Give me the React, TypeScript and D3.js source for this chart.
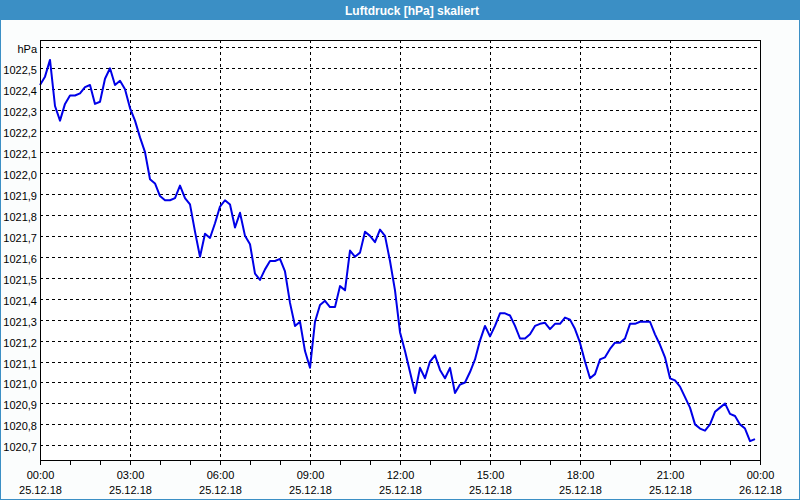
import React from "react";
import * as d3 from "d3";

const title = "Luftdruck [hPa] skaliert";
const unitLabel = "hPa";

// Pressure readings every 10 minutes from 25.12.18 00:00
const pressure: number[] = [
  1022.42, 1022.46, 1022.54, 1022.32, 1022.25, 1022.33, 1022.37, 1022.37, 1022.38, 1022.41,
  1022.42, 1022.33, 1022.34, 1022.45, 1022.5, 1022.42, 1022.44, 1022.4, 1022.31, 1022.25,
  1022.17, 1022.1, 1021.97, 1021.95, 1021.89, 1021.87, 1021.87, 1021.88, 1021.94, 1021.88,
  1021.85, 1021.72, 1021.6, 1021.71, 1021.69, 1021.76, 1021.84, 1021.87, 1021.85, 1021.74,
  1021.81, 1021.7, 1021.66, 1021.52, 1021.49, 1021.54, 1021.58, 1021.58, 1021.59, 1021.53,
  1021.38, 1021.27, 1021.29, 1021.15, 1021.07, 1021.29, 1021.37, 1021.39, 1021.36, 1021.36,
  1021.46, 1021.44, 1021.63, 1021.6, 1021.62, 1021.72, 1021.7, 1021.67, 1021.73, 1021.7,
  1021.58, 1021.44, 1021.24, 1021.15, 1021.05, 1020.95, 1021.07, 1021.02, 1021.1, 1021.13,
  1021.06, 1021.02, 1021.07, 1020.95, 1020.99, 1021.0, 1021.05, 1021.11, 1021.2, 1021.27,
  1021.22, 1021.27, 1021.33, 1021.33, 1021.32, 1021.27, 1021.21, 1021.21, 1021.23, 1021.27,
  1021.28, 1021.285, 1021.255, 1021.28, 1021.28, 1021.31, 1021.3, 1021.255, 1021.19, 1021.1,
  1021.02, 1021.04, 1021.11, 1021.12, 1021.16, 1021.19, 1021.19, 1021.21, 1021.28, 1021.28,
  1021.29, 1021.29, 1021.29, 1021.23, 1021.18, 1021.12, 1021.02, 1021.01, 1020.98, 1020.93,
  1020.88, 1020.8, 1020.78, 1020.77, 1020.8, 1020.86, 1020.88, 1020.9, 1020.85, 1020.84,
  1020.8, 1020.78, 1020.72, 1020.73,
];

const yTicks: number[] = [
  1020.7, 1020.8, 1020.9, 1021.0, 1021.1, 1021.2, 1021.3, 1021.4, 1021.5, 1021.6,
  1021.7, 1021.8, 1021.9, 1022.0, 1022.1, 1022.2, 1022.3, 1022.4, 1022.5,
];
const yUnitTick = 1022.6;

const xTimeLabels = ["00:00", "03:00", "06:00", "09:00", "12:00", "15:00", "18:00", "21:00", "00:00"];
const xDateLabels = ["25.12.18", "25.12.18", "25.12.18", "25.12.18", "25.12.18", "25.12.18", "25.12.18", "25.12.18", "26.12.18"];

const start = new Date(2018, 11, 25, 0, 0);
const end = new Date(2018, 11, 26, 0, 0);

const W = 800;
const H = 500;
const plot = { left: 40, top: 40, right: 760, bottom: 460 };
const FONT = "'Liberation Sans', Arial, sans-serif";
const BLUE_FRAME = "#3b8fc5";

export default function App() {
  const x = d3.scaleTime().domain([start, end]).range([plot.left, plot.right]);
  const y = d3.scaleLinear().domain([1020.63, 1022.635]).range([plot.bottom, plot.top]);

  const data = pressure.map((v, i) => ({ t: d3.timeMinute.offset(start, i * 10), v }));
  const line = d3
    .line<{ t: Date; v: number }>()
    .x((d) => x(d.t))
    .y((d) => y(d.v));

  const majorTicks = d3.timeHour.every(3)!.range(start, d3.timeMinute.offset(end, 1));
  const minorTicks = d3.timeHour.every(1)!.range(start, d3.timeMinute.offset(end, 1));
  const crisp = (v: number) => Math.round(v) + 0.5;
  const fmt = (v: number) => v.toFixed(1).replace(".", ",");

  return (
    <div style={{ position: "fixed", left: 0, top: 0 }}>
      <svg width={W} height={H} style={{ display: "block" }} fontFamily={FONT}>
        <rect x={0} y={0} width={W} height={H} fill="#fbfdfd" />
        <rect x={0.5} y={0.5} width={W - 1} height={H - 1} fill="none" stroke={BLUE_FRAME} />
        <rect x={0} y={0} width={W} height={20} fill={BLUE_FRAME} />
        <text x={412} y={14.5} textAnchor="middle" fill="#ffffff" fontSize={12} fontWeight="bold">
          {title}
        </text>

        <rect
          x={plot.left}
          y={plot.top}
          width={plot.right - plot.left}
          height={plot.bottom - plot.top}
          fill="#ffffff"
        />

        {/* horizontal grid */}
        {[...yTicks, yUnitTick].map((t, i) => (
          <line
            key={"hg" + i}
            x1={plot.left}
            x2={plot.right}
            y1={crisp(y(t))}
            y2={crisp(y(t))}
            stroke="#000"
            strokeDasharray="3,3"
            shapeRendering="crispEdges"
          />
        ))}
        {/* vertical grid */}
        {majorTicks.slice(1, -1).map((t, i) => (
          <line
            key={"vg" + i}
            x1={crisp(x(t))}
            x2={crisp(x(t))}
            y1={plot.top}
            y2={plot.bottom}
            stroke="#000"
            strokeDasharray="3,3"
            shapeRendering="crispEdges"
          />
        ))}

        <path d={line(data) || ""} fill="none" stroke="#0000e8" strokeWidth={2} strokeLinejoin="round" />

        <rect
          x={plot.left + 0.5}
          y={plot.top + 0.5}
          width={plot.right - plot.left}
          height={plot.bottom - plot.top}
          fill="none"
          stroke="#000"
          shapeRendering="crispEdges"
        />

        {/* y labels */}
        {yTicks.map((t, i) => (
          <text key={"yl" + i} x={37} y={y(t) + 6} textAnchor="end" fontSize={11} fill="#000">
            {fmt(t)}
          </text>
        ))}
        <text x={37} y={y(yUnitTick) + 6} textAnchor="end" fontSize={11} fill="#000">
          {unitLabel}
        </text>

        {/* x ticks */}
        {minorTicks.map((t, i) => (
          <line
            key={"xt" + i}
            x1={crisp(x(t))}
            x2={crisp(x(t))}
            y1={plot.bottom}
            y2={plot.bottom + 5}
            stroke="#000"
            shapeRendering="crispEdges"
          />
        ))}
        {majorTicks.map((t, i) => (
          <g key={"xl" + i}>
            <text x={x(t) + 0.5} y={479} textAnchor="middle" fontSize={11} fill="#000">
              {xTimeLabels[i]}
            </text>
            <text x={x(t) + 0.5} y={494} textAnchor="middle" fontSize={11} fill="#000">
              {xDateLabels[i]}
            </text>
          </g>
        ))}
      </svg>
    </div>
  );
}
